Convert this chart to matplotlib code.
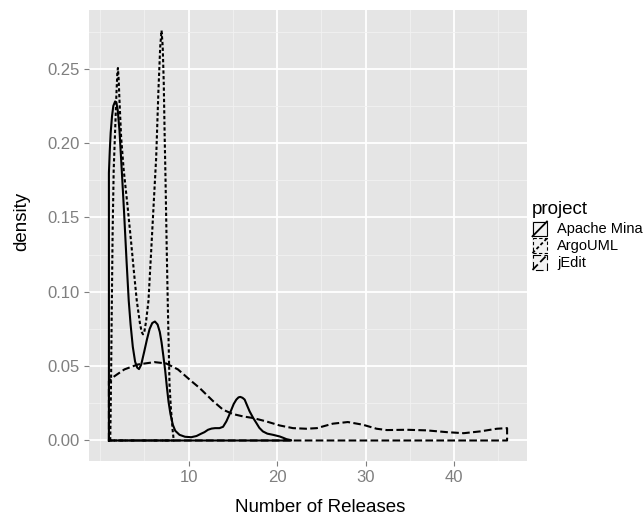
import matplotlib
matplotlib.use("Agg")
import matplotlib.pyplot as plt
from matplotlib.patches import Rectangle

# density outlines (x = number of releases, y = density)
mina_x = [1.0, 1.0, 1.1, 1.2, 1.35, 1.5, 1.7, 1.85, 2.0, 2.2, 2.45, 2.7, 3.0, 3.24,
          3.45, 3.7, 3.96, 4.2, 4.4, 4.65, 5.0, 5.3, 5.6, 5.9, 6.2, 6.5, 6.75,
          6.95, 7.15, 7.36, 7.55, 7.74, 7.95, 8.22, 8.5, 8.98, 9.6, 10.3, 10.9,
          11.4, 11.8, 12.2, 12.6, 13.0, 13.5, 13.9, 14.27, 14.55, 14.84, 15.1,
          15.4, 15.65, 15.85, 16.1, 16.34, 16.6, 16.9, 17.3, 17.67, 18.0, 18.4,
          18.9, 19.55, 20.3, 20.7, 21.06, 21.6, 21.6]
mina_y = [0.0, 0.18, 0.195, 0.207, 0.218, 0.225, 0.228, 0.227, 0.222, 0.208,
          0.182, 0.155, 0.12, 0.094, 0.078, 0.063, 0.053, 0.049, 0.048, 0.051,
          0.06, 0.068, 0.075, 0.079, 0.080, 0.078, 0.073, 0.066, 0.057, 0.047,
          0.036, 0.026, 0.018, 0.0106, 0.0065, 0.0038, 0.0025, 0.0022, 0.003,
          0.0045, 0.0056, 0.0072, 0.0080, 0.0083, 0.0083, 0.0092, 0.0128, 0.0165,
          0.0207, 0.0245, 0.0275, 0.029, 0.0293, 0.0287, 0.0275, 0.0238, 0.0196,
          0.0152, 0.0117, 0.0085, 0.0061, 0.0046, 0.0038, 0.0027, 0.0018, 0.0009,
          0.0002, 0.0]

argo_x = [1.15, 1.2, 1.25, 1.32, 1.42, 1.54, 1.7, 1.85, 1.95, 2.02, 2.1, 2.2,
          2.38, 2.67, 3.1, 3.5, 3.85, 4.15, 4.5, 4.7, 4.85, 5.0, 5.2, 5.47, 5.8,
          6.05, 6.34, 6.6, 6.8, 6.95, 7.08, 7.2, 7.3, 7.4, 7.53, 7.66, 7.85, 8.0,
          8.1, 8.2, 8.3, 8.35]
argo_y = [0.0, 0.02, 0.045, 0.087, 0.14, 0.182, 0.208, 0.233, 0.247, 0.2505,
          0.243, 0.228, 0.204, 0.182, 0.158, 0.134, 0.112, 0.094, 0.079, 0.073,
          0.0714, 0.073, 0.08, 0.094, 0.13, 0.158, 0.19, 0.236, 0.265, 0.2757,
          0.265, 0.24, 0.205, 0.175, 0.13, 0.09, 0.0376, 0.022, 0.015, 0.007,
          0.0016, 0.0]

jedit_x = [1.0, 1.0, 1.62, 2.75, 4.26, 6.15, 7.47, 8.8, 10.3, 11.25, 12.75, 13.9,
           15.0, 16.15, 17.3, 18.8, 20.3, 21.8, 23.3, 24.5, 26.3, 28.0, 29.7,
           31.25, 32.4, 34.65, 36.9, 39.2, 41.1, 42.95, 44.85, 46.0, 46.0]
jedit_y = [0.0, 0.040, 0.0432, 0.0478, 0.0511, 0.0527, 0.0518, 0.0478, 0.040,
           0.0353, 0.0266, 0.0207, 0.0178, 0.0162, 0.0151, 0.0128, 0.0101, 0.0083,
           0.0079, 0.0083, 0.0113, 0.0124, 0.0106, 0.0079, 0.0070, 0.0072, 0.0068,
           0.0056, 0.0049, 0.0061, 0.0079, 0.0083, 0.0]

projects = ["Apache Mina", "ArgoUML", "jEdit"]
curves = [(mina_x, mina_y), (argo_x, argo_y), (jedit_x, jedit_y)]
styles = ["-", (0, (2.4, 1.7)), (0, (5.5, 2.4))]

plt.rcParams["font.family"] = ["Liberation Sans", "DejaVu Sans"]
plt.rcParams["lines.scale_dashes"] = False

fig = plt.figure(figsize=(6.43, 5.17), dpi=100)
ax = fig.add_axes([89 / 643, 1 - 461 / 517, 438 / 643, 451 / 517])
ax.set_facecolor("#E5E5E5")

for (xs, ys), ls in zip(curves, styles):
    # closed outline like geom_density: back along the baseline
    px = list(xs) + [xs[0]]
    py = list(ys) + [0.0]
    ax.plot(px, py, color="black", linestyle=ls, lw=1.5, zorder=3,
            solid_joinstyle="round")

ax.set_xlim(-1.25, 48.25)
ax.set_ylim(-0.0138, 0.2895)
ax.set_xticks([10, 20, 30, 40])
ax.set_xticks([0, 5, 15, 25, 35, 45], minor=True)
ax.set_yticks([0, 0.05, 0.10, 0.15, 0.20, 0.25])
ax.set_yticklabels(["0.00", "0.05", "0.10", "0.15", "0.20", "0.25"])
ax.set_yticks([0.025, 0.075, 0.125, 0.175, 0.225, 0.275], minor=True)
ax.grid(which="major", color="white", lw=1.3, zorder=0)
ax.grid(which="minor", color="#F2F2F2", lw=0.6, zorder=0)
ax.set_axisbelow(True)
for s in ax.spines.values():
    s.set_visible(False)
ax.tick_params(which="major", length=3.5, width=0.8, color="#7F7F7F",
               labelcolor="#7F7F7F", labelsize=12, pad=3)
ax.tick_params(which="minor", length=0)
ax.set_xlabel("Number of Releases", fontsize=13.5)
ax.set_ylabel("density", fontsize=13.5)
ax.xaxis.set_label_coords((320 - 89) / 438, -0.085)
ax.yaxis.set_label_coords(-0.135, (461 - 221.5) / 451)

# legend drawn by hand, in pixel coordinates
lg = fig.add_axes([0, 0, 1, 1], zorder=5)
lg.set_xlim(0, 643)
lg.set_ylim(517, 0)
lg.axis("off")
lg.text(531.5, 209, "project", fontsize=13.5, va="center", ha="left")
for i, (name, ls) in enumerate(zip(projects, styles)):
    y0 = 220.5 + i * 16.8
    lg.add_patch(Rectangle((531.5, y0), 16.5, 16.8, facecolor="#F2F2F2",
                           edgecolor="none"))
    lg.add_patch(Rectangle((532.5, y0 + 1), 14.5, 14.8, facecolor="none",
                           edgecolor="black", lw=0.8, linestyle=ls))
    lg.plot([532.5, 547], [y0 + 15.8, y0 + 1], color="black", lw=1.3,
            linestyle=ls)
    lg.text(557, y0 + 9, name, fontsize=10.5, va="center", ha="left")

fig.savefig("out.png", dpi=100)
